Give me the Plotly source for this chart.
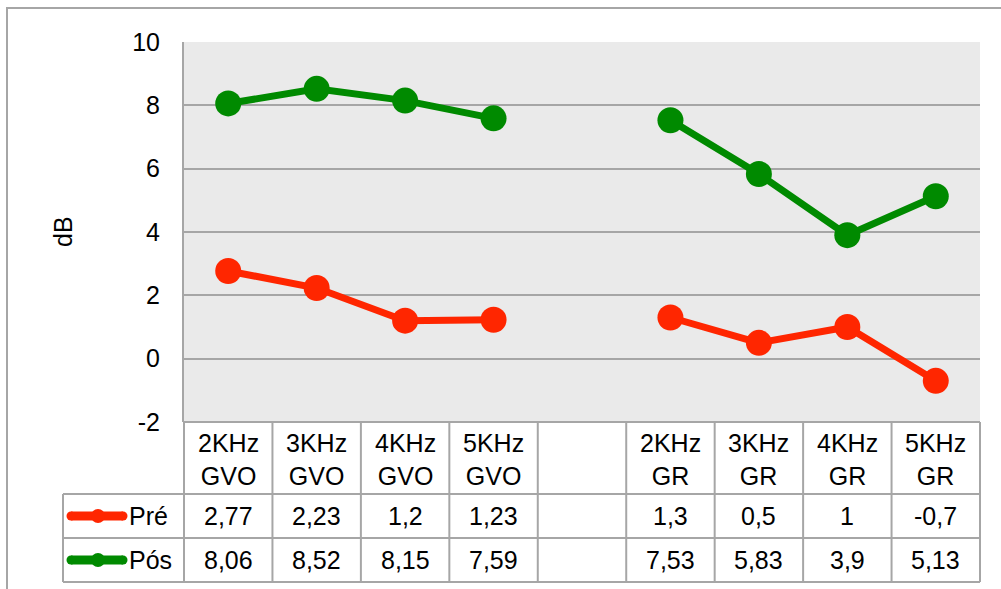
import plotly.graph_objects as go

# Categories (blank separator between the two groups)
categories = ["2KHz<br>GVO", "3KHz<br>GVO", "4KHz<br>GVO", "5KHz<br>GVO", "",
              "2KHz<br>GR", "3KHz<br>GR", "4KHz<br>GR", "5KHz<br>GR"]
pre = [2.77, 2.23, 1.2, 1.23, None, 1.3, 0.5, 1, -0.7]
pos = [8.06, 8.52, 8.15, 7.59, None, 7.53, 5.83, 3.9, 5.13]
series_names = ["Pré", "Pós"]
series_colors = ["#FF2600", "#008A00"]
y_ticks = [-2, 0, 2, 4, 6, 8, 10]

W, H = 1001, 589
PL, PR, PT, PB = 184, 980, 42, 422   # plot area in pixels
FONT = "Liberation Sans, Arial, sans-serif"
FS = 25
GRID = "#A6A6A6"


def px_x(p):
    return (p - PL) / (PR - PL)


def px_y(p):
    return (PB - p) / (PB - PT)


def fmt(v):
    if v is None:
        return ""
    return ("%g" % v).replace(".", ",")


n = len(categories)
xs = list(range(n))

fig = go.Figure()
for name, vals, col in zip(series_names, [pre, pos], series_colors):
    fig.add_trace(go.Scatter(
        x=xs, y=vals, mode="lines+markers", name=name,
        line=dict(color=col, width=7),
        marker=dict(color=col, size=26),
        connectgaps=False, showlegend=False,
    ))

shapes = []
annotations = []

# Outer chart frame
shapes.append(dict(type="rect", xref="paper", yref="paper",
                   x0=px_x(7), x1=px_x(1010), y0=px_y(600), y1=px_y(8),
                   line=dict(color=GRID, width=2), fillcolor="rgba(0,0,0,0)",
                   layer="below"))

# Data table grid
col_w = (PR - PL) / n
row_edges = [PB, 494, 538, 582]
shapes.append(dict(type="line", xref="paper", yref="paper",
                   x0=px_x(PL), x1=px_x(PR), y0=px_y(PB), y1=px_y(PB),
                   line=dict(color=GRID, width=2)))
for r in row_edges[1:]:
    shapes.append(dict(type="line", xref="paper", yref="paper",
                       x0=px_x(63), x1=px_x(PR), y0=px_y(r), y1=px_y(r),
                       line=dict(color=GRID, width=2)))
for i in range(n + 1):
    xp = PL + i * col_w
    shapes.append(dict(type="line", xref="paper", yref="paper",
                       x0=px_x(xp), x1=px_x(xp), y0=px_y(PB), y1=px_y(582),
                       line=dict(color=GRID, width=2)))
shapes.append(dict(type="line", xref="paper", yref="paper",
                   x0=px_x(63), x1=px_x(63), y0=px_y(494), y1=px_y(582),
                   line=dict(color=GRID, width=2)))

# Header labels
for i, c in enumerate(categories):
    cx = PL + (i + 0.5) * col_w
    annotations.append(dict(xref="paper", yref="paper", x=px_x(cx),
                            y=px_y((PB + 494) / 2 + 1), text=c, showarrow=False,
                            font=dict(family=FONT, size=FS, color="#000"),
                            xanchor="center", yanchor="middle"))

# Value rows with legend keys
for ri, (name, vals, col) in enumerate(zip(series_names, [pre, pos], series_colors)):
    cy = (row_edges[ri + 1] + row_edges[ri + 2]) / 2
    for i, v in enumerate(vals):
        cx = PL + (i + 0.5) * col_w
        annotations.append(dict(xref="paper", yref="paper", x=px_x(cx),
                                y=px_y(cy), text=fmt(v), showarrow=False,
                                font=dict(family=FONT, size=FS, color="#000"),
                                xanchor="center", yanchor="middle"))
    # legend key: thick rounded line with a dot
    shapes.append(dict(type="line", xref="paper", yref="paper",
                       x0=px_x(71), x1=px_x(123), y0=px_y(cy), y1=px_y(cy),
                       line=dict(color=col, width=9)))
    shapes.append(dict(type="circle", xref="paper", yref="paper",
                       x0=px_x(98 - 7), x1=px_x(98 + 7),
                       y0=px_y(cy + 7), y1=px_y(cy - 7),
                       line=dict(color=col, width=0), fillcolor=col))
    for ex in (71, 123):
        shapes.append(dict(type="circle", xref="paper", yref="paper",
                           x0=px_x(ex - 4.5), x1=px_x(ex + 4.5),
                           y0=px_y(cy + 4.5), y1=px_y(cy - 4.5),
                           line=dict(color=col, width=0), fillcolor=col))
    annotations.append(dict(xref="paper", yref="paper", x=px_x(127),
                            y=px_y(cy), text=name, showarrow=False,
                            font=dict(family=FONT, size=FS, color="#000"),
                            xanchor="left", yanchor="middle"))

# Axis title
annotations.append(dict(xref="paper", yref="paper", x=px_x(63), y=px_y(232),
                        text="dB", textangle=-90, showarrow=False,
                        font=dict(family=FONT, size=FS, color="#000"),
                        xanchor="center", yanchor="middle"))

fig.update_layout(
    width=W, height=H,
    margin=dict(l=PL, r=W - PR, t=PT, b=H - PB, pad=0),
    paper_bgcolor="white", plot_bgcolor="#EAEAEA",
    shapes=shapes, annotations=annotations,
    xaxis=dict(range=[-0.5, n - 0.5], showticklabels=False, showgrid=False,
               zeroline=False, fixedrange=True),
    yaxis=dict(range=[-2, 10], tickvals=y_ticks, ticktext=[str(t) for t in y_ticks],
               showgrid=True, gridcolor=GRID, gridwidth=2, zeroline=False,
               showline=True, linecolor=GRID, linewidth=2,
               ticks="", ticklabelstandoff=17,
               tickfont=dict(family=FONT, size=FS, color="#000")),
)

fig.write_html("out.html")
